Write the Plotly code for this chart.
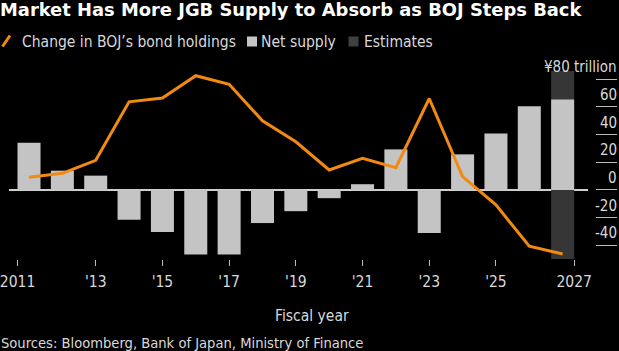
import plotly.graph_objects as go

years = list(range(2011, 2028))
net_supply = [34.1, 13.9, 10.3, -21.6, -30.5, -46.8, -46.8, -24.0, -15.4, -6.0,
              4.1, 29.3, -31.2, 25.7, 40.8, 60.5, 65.3]
boj_change = [9.1, 12.0, 21.4, 63.7, 66.5, 82.6, 76.4, 50.0, 34.8, 14.4,
              22.8, 16.1, 66.1, 9.6, -10.8, -40.8, -46.4]
estimate_years = [2027]

y_min, y_max = -50, 86
y_tickvals = [-40, -20, 0, 20, 40, 60, 80]
y_ticktext = ["-40", "-20", "0", "20", "40", "60", "¥80 trillion"]
x_tickvals = [2010.655, 2013, 2015, 2017, 2019, 2021, 2023, 2025, 2027.345]
x_ticktext = ["2011", "'13", "'15", "'17", "'19", "'21", "'23", "'25", "2027"]

legend_names = ["Change in BOJ’s bond holdings", "Net supply", "Estimates"]

BODY = "'DejaVu Sans Condensed', Roboto, sans-serif"
TITLE = "'DejaVu Sans', sans-serif"
TXT = "#d9d9d9"
ORANGE = "#f28a0f"
LIGHT = "#c4c4c4"
DARK = "#363636"

W, H = 619, 351
L, R, T, B = 9, 2, 71, 92
PAPER_W = W - L - R
PLOT_W = 588 - L
PH = 259 - T


def px(x):
    return (x - L) / PAPER_W


def py(y):
    return (259 - y) / PH


fig = go.Figure()
fig.add_trace(go.Bar(
    x=estimate_years, y=[y_max - y_min] * len(estimate_years), base=[y_min] * len(estimate_years),
    width=0.69, marker=dict(color=DARK, line=dict(width=0)),
    name=legend_names[2], hoverinfo="skip"))
fig.add_trace(go.Bar(
    x=years, y=net_supply, width=0.69,
    marker=dict(color=LIGHT, line=dict(width=0)),
    name=legend_names[1]))
fig.add_trace(go.Scatter(
    x=years, y=boj_change, mode="lines",
    line=dict(color=ORANGE, width=3),
    name=legend_names[0]))

shapes = [
    dict(type="line", xref="paper", yref="paper", x0=px(2.5), y0=py(46.5), x1=px(10), y1=py(35.5),
         line=dict(color=ORANGE, width=3)),
    dict(type="rect", xref="paper", yref="paper", x0=px(247), y0=py(46.5), x1=px(257), y1=py(36.5),
         fillcolor=LIGHT, line=dict(width=0)),
    dict(type="rect", xref="paper", yref="paper", x0=px(348.5), y0=py(46.5), x1=px(358.5), y1=py(36.5),
         fillcolor="#404040", line=dict(width=0)),
]

annotations = [
    dict(text=legend_names[0], x=px(19.5), y=py(41.5), size=15.5),
    dict(text=legend_names[1], x=px(259), y=py(41.5), size=15.5),
    dict(text=legend_names[2], x=px(361.5), y=py(41.5), size=15.5),
    dict(text="Sources: Bloomberg, Bank of Japan, Ministry of Finance", x=px(-1), y=py(342.5), size=14.6),
]
for a in annotations:
    s = a.pop("size")
    a.update(xref="paper", yref="paper", xanchor="left", yanchor="middle", showarrow=False,
             font=dict(family=BODY, size=s, color=TXT))
annotations.append(dict(text="Fiscal year", xref="paper", yref="paper", x=px(312), y=py(316),
                        xanchor="center", yanchor="middle", showarrow=False,
                        font=dict(family=BODY, size=15.5, color=TXT)))
# right-side y tick labels sit just above their tick lines
for v, t in zip(y_tickvals, y_ticktext):
    annotations.append(dict(text=t, xref="paper", yref="y", x=px(619), y=v,
                            xanchor="right", yanchor="bottom", showarrow=False, yshift=1,
                            font=dict(family=BODY, size=15, color=TXT)))

fig.update_layout(
    width=W, height=H,
    margin=dict(l=L, r=R, t=T, b=B, autoexpand=False),
    paper_bgcolor="black", plot_bgcolor="black",
    barmode="overlay",
    showlegend=False,
    font=dict(family=BODY, color=TXT, size=15),
    title=dict(text="<b>Market Has More JGB Supply to Absorb as BOJ Steps Back</b>",
               x=0.0, xref="container", xanchor="left",
               y=1 - 9.5 / H, yref="container", yanchor="middle",
               font=dict(family=TITLE, size=17.9, color="white")),
    xaxis=dict(domain=[0, PLOT_W / PAPER_W], range=[2010.40, 2027.76], automargin=False,
               tickvals=x_tickvals, ticktext=x_ticktext,
               ticks="outside", ticklen=6, tickcolor="#bbbbbb", tickwidth=1,
               ticklabeloverflow="allow", ticklabelstandoff=2,
               showgrid=False, zeroline=False, showline=False,
               tickfont=dict(family=BODY, size=15.5, color=TXT)),
    yaxis=dict(range=[y_min, y_max], side="right", anchor="free", position=1.0, automargin=False,
               tickvals=y_tickvals, showticklabels=False,
               ticks="inside", ticklen=21, tickcolor="#bbbbbb", tickwidth=1,
               showgrid=False, zeroline=True, zerolinecolor="#cfcfcf", zerolinewidth=1.5,
               showline=False),
    shapes=shapes,
    annotations=annotations,
)

fig.write_html("out.html")
